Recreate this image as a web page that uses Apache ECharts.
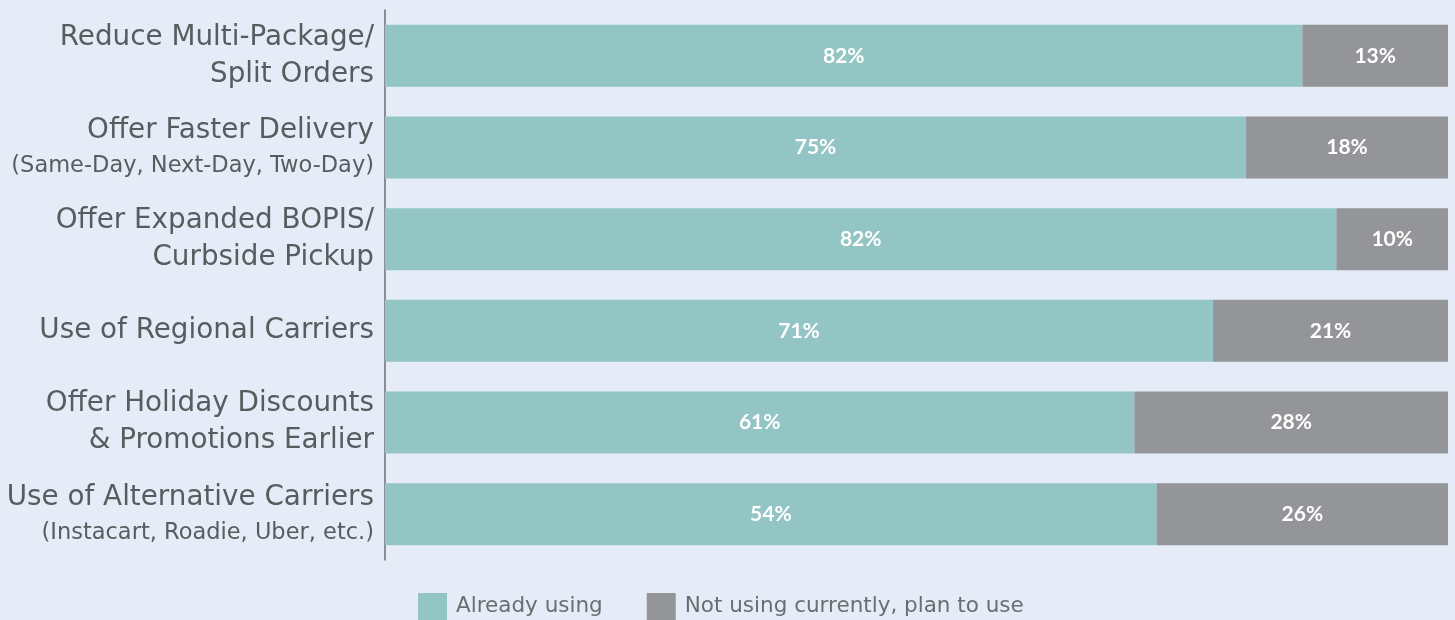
<!DOCTYPE html>
<html><head><meta charset="utf-8">
<script src="https://cdn.jsdelivr.net/npm/echarts@6/dist/echarts.min.js"></script>
<style>html,body{margin:0;padding:0;background:#e5ecf7;}#c{width:1455px;height:620px;}</style>
</head><body><div id="c"></div>
<script>
// Category labels: main line(s) and optional smaller sub line
const catMain = [
  "Reduce Multi-Package/\nSplit Orders",
  "Offer Faster Delivery",
  "Offer Expanded BOPIS/\nCurbside Pickup",
  "Use of Regional Carriers",
  "Offer Holiday Discounts\n& Promotions Earlier",
  "Use of Alternative Carriers"
];
const catSub = [
  "",
  "(Same-Day, Next-Day, Two-Day)",
  "",
  "",
  "",
  "(Instacart, Roadie, Uber, etc.)"
];
// Printed percentages
const alreadyLabel = [82, 75, 82, 71, 61, 54];
const planLabel = [13, 18, 10, 21, 28, 26];
// Bar shares as drawn (share of full bar length, %)
const alreadyShare = [86.3, 81.0, 89.5, 77.9, 70.5, 72.6];
const planShare = [13.7, 19.0, 10.5, 22.1, 29.5, 27.4];
const legendNames = ["Already using", "Not using currently, plan to use"];

const chart = echarts.init(document.getElementById('c'));
const FONT = 'DejaVu Sans';
chart.setOption({
  backgroundColor: '#e5ecf7',
  animation: false,
  grid: {left: 385, right: 7, top: 10, bottom: 60},
  xAxis: {type: 'value', min: 0, max: 100, show: false},
  yAxis: {
    type: 'category', inverse: true,
    data: catMain.map((m, i) => i),
    axisLine: {show: true, lineStyle: {color: '#6b6e70', width: 1.5}},
    axisTick: {show: false},
    axisLabel: {
      margin: 11, align: 'right',
      formatter: (v) => {
        const i = +v;
        let s = catMain[i].split('\n').map(l => '{a|' + l + '}').join('\n');
        if (catSub[i]) s += '\n{b|' + catSub[i] + '}';
        return s;
      },
      rich: {
        a: {fontFamily: FONT, fontSize: 27.8, color: '#585c5e', lineHeight: 37, align: 'right'},
        b: {fontFamily: FONT, fontSize: 22.5, color: '#585c5e', lineHeight: 33, align: 'right'}
      }
    }
  },
  legend: {
    top: 593, left: 418, padding: 0, itemWidth: 29, itemHeight: 27, itemGap: 44,
    icon: 'rect',
    textStyle: {fontFamily: FONT, fontSize: 21.5, color: '#6b6e70', padding: [0, 0, 0, 4]},
    data: legendNames
  },
  series: [
    {
      name: legendNames[0], type: 'bar', stack: 's', barWidth: 62,
      data: alreadyShare,
      itemStyle: {color: '#93c5c4'},
      label: {show: true, position: 'inside', color: '#ffffff', fontFamily: 'Lato', fontWeight: 'bold', fontSize: 21,
        formatter: (p) => alreadyLabel[p.dataIndex] + '%'}
    },
    {
      name: legendNames[1], type: 'bar', stack: 's', barWidth: 62,
      data: planShare,
      itemStyle: {color: '#939598'},
      label: {show: true, position: 'inside', color: '#ffffff', fontFamily: 'Lato', fontWeight: 'bold', fontSize: 21,
        formatter: (p) => planLabel[p.dataIndex] + '%'}
    }
  ]
});
</script></body></html>
